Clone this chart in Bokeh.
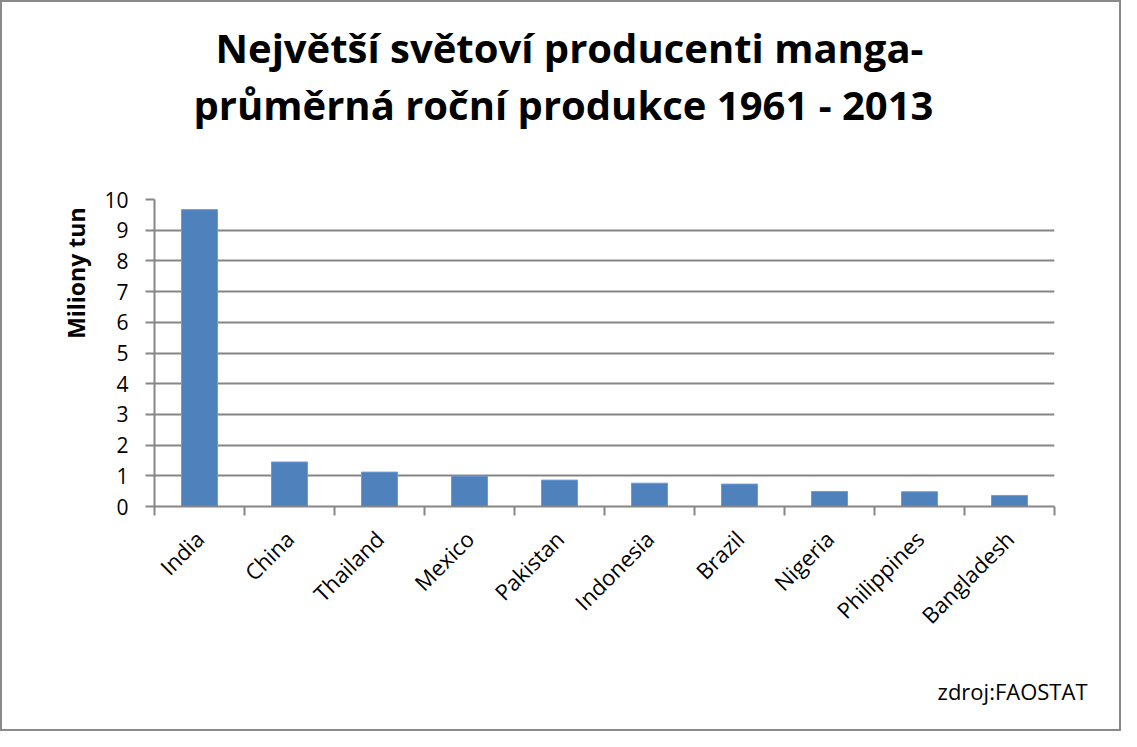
from bokeh.plotting import figure
from bokeh.models import Range1d, FixedTicker, Title, ColumnDataSource
from bokeh.embed import file_html
from bokeh.resources import INLINE

countries = ["India", "China", "Thailand", "Mexico", "Pakistan",
             "Indonesia", "Brazil", "Nigeria", "Philippines", "Bangladesh"]
values = [9.67, 1.45, 1.12, 0.99, 0.86, 0.76, 0.73, 0.49, 0.48, 0.36]
y_ticks = [0, 1, 2, 3, 4, 5, 6, 7, 8, 9, 10]

title_line1 = "Největší světoví producenti manga-"
title_line2 = "průměrná roční produkce 1961 - 2013"
y_label = "Miliony tun"
source_note = "zdroj:FAOSTAT"

FONT = "Open Sans"
GRID = "#868686"
BAR = "#4F81BD"

n = len(countries)
centers = [i + 0.5 for i in range(n)]
src = ColumnDataSource(dict(x=centers, top=values, name=countries))

p = figure(width=1121, height=731, output_backend="svg", toolbar_location=None,
           x_range=Range1d(0, n), y_range=Range1d(0, 10),
           min_border_left=152, min_border_right=69,
           min_border_top=197, min_border_bottom=227)
p.styles = {"border": "2px solid #8a8a8a", "box-sizing": "border-box"}

p.vbar(x="x", top="top", width=0.4, source=src, fill_color=BAR,
       line_color="#6f9bd1", line_width=1)

# blank spacer between the frame and the two heading lines
spacer = Title(text=" ", text_font_size="10px", standoff=53)
p.add_layout(spacer, "above")

t2 = Title(text=title_line2, align="left", vertical_align="top", text_font=FONT,
           text_font_style="bold", text_font_size="40px", text_color="black",
           standoff=0, offset=39)
t1 = Title(text=title_line1, align="left", vertical_align="top", text_font=FONT,
           text_font_style="bold", text_font_size="40px", text_color="black",
           standoff=0, offset=61)
p.add_layout(t2, "above")
p.add_layout(t1, "above")

# x axis
xa = p.xaxis[0]
xa.ticker = FixedTicker(ticks=centers, minor_ticks=list(range(n + 1)))
xa.major_label_overrides = {c: name for c, name in zip(centers, countries)}
xa.major_label_orientation = 0.785398
xa.major_tick_out = 0
xa.major_tick_in = 0
xa.minor_tick_out = 9
xa.minor_tick_in = 0
xa.minor_tick_line_color = GRID
xa.minor_tick_line_width = 2
xa.axis_line_color = GRID
xa.axis_line_width = 2
xa.major_label_text_font = FONT
xa.major_label_text_font_size = "22px"
xa.major_label_text_color = "black"
xa.major_label_standoff = 19

# y axis
ya = p.yaxis[0]
ya.ticker = FixedTicker(ticks=y_ticks, minor_ticks=[])
ya.major_tick_out = 9
ya.major_tick_in = 0
ya.major_tick_line_color = GRID
ya.major_tick_line_width = 2
ya.axis_line_color = GRID
ya.axis_line_width = 2
ya.major_label_text_font = FONT
ya.major_label_text_font_size = "21px"
ya.major_label_text_color = "black"
ya.major_label_standoff = 17

ylab = Title(text=y_label, align="right", text_font=FONT, text_font_style="bold",
             text_font_size="23px", text_color="black", standoff=20, offset=8)
p.add_layout(ylab, "left")

p.xgrid.grid_line_color = None
p.ygrid.grid_line_color = GRID
p.ygrid.grid_line_width = 2
p.ygrid.ticker = FixedTicker(ticks=y_ticks)
p.outline_line_color = None

spacer_below = Title(text=" ", text_font_size="10px", standoff=14)
p.add_layout(spacer_below, "below")
note = Title(text=source_note, align="right", vertical_align="bottom", text_font=FONT,
             text_font_style="normal", text_font_size="22px", text_color="black",
             standoff=6, offset=-33)
p.add_layout(note, "below")

open("out.html", "w").write(file_html(p, INLINE))
